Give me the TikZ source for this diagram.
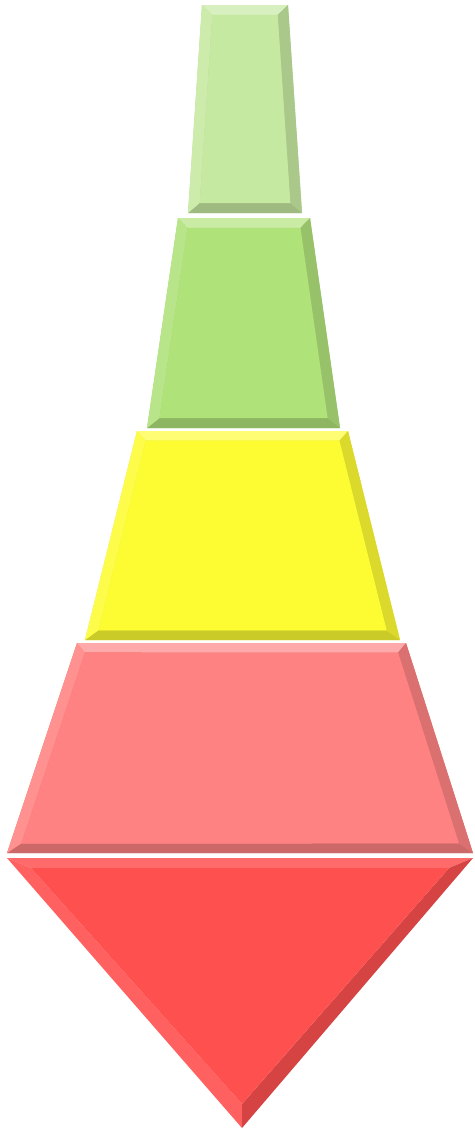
\documentclass[tikz,border=0pt]{standalone}
\usetikzlibrary{calc}

\definecolor{paleleaf}{HTML}{C6E9A1}
\definecolor{leaf}{HTML}{B0E27A}
\definecolor{lemon}{HTML}{FDFC33}
\definecolor{salmon}{HTML}{FF8282}
\definecolor{tomato}{HTML}{FF5050}

% one bevelled trapezoid: top-left x, top-right x, top y, bottom-left x, bottom-right x, bottom y, colour
\newcommand{\bevtier}[7]{%
	\coordinate (tl) at (#1,#3);
	\coordinate (tr) at (#2,#3);
	\coordinate (br) at (#5,#6);
	\coordinate (bl) at (#4,#6);
	\coordinate (itl) at ($(tl)!0.2cm!(bl)+(11,0)$);
	\coordinate (itr) at ($(tr)!0.2cm!(br)+(-11,0)$);
	\coordinate (ibr) at ($(br)!0.2cm!(tr)+(-11,0)$);
	\coordinate (ibl) at ($(bl)!0.2cm!(tl)+(11,0)$);
	\fill[#7!92!black] (tl) -- (tr) -- (br) -- (bl) -- cycle;
	\fill[#7!68!white] (tl) -- (tr) -- (itr) -- (itl) -- cycle;
	\fill[#7!80!black] (bl) -- (br) -- (ibr) -- (ibl) -- cycle;
	\fill[#7!88!white] (tl) -- (itl) -- (ibl) -- (bl) -- cycle;
	\fill[#7!86!black] (tr) -- (itr) -- (ibr) -- (br) -- cycle;
	\fill[#7] (itl) -- (itr) -- (ibr) -- (ibl) -- cycle;
}

\begin{document}
\begin{tikzpicture}[x=0.02cm, y=-0.02cm]
	\useasboundingbox (0,0) rectangle (475,1129);
	\bevtier{202}{288}{5}{188}{302}{213}{paleleaf}
	\bevtier{178}{310}{218}{147}{340}{428}{leaf}
	\bevtier{137}{348}{431}{85}{400}{640}{lemon}
	\bevtier{77}{406}{643}{7}{473}{853}{salmon}
	% bottom point
	\coordinate (vl) at (7,858);
	\coordinate (vr) at (473,858);
	\coordinate (vt) at (242,1128);
	\coordinate (ivl) at (31,868);
	\coordinate (ivr) at (449,868);
	\coordinate (ivt) at (242,1104);
	\fill[tomato!85!white] (vl) -- (vr) -- (ivr) -- (ivl) -- cycle;
	\fill[tomato!90!white] (vl) -- (ivl) -- (ivt) -- (vt) -- cycle;
	\fill[tomato!84!black] (vr) -- (ivr) -- (ivt) -- (vt) -- cycle;
	\fill[tomato] (ivl) -- (ivr) -- (ivt) -- cycle;
\end{tikzpicture}
\end{document}
